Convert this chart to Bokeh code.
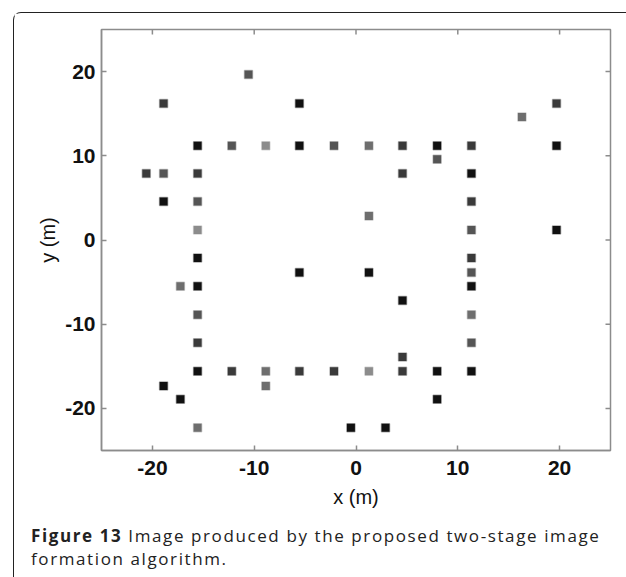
import math
from bokeh.plotting import figure
from bokeh.models import Range1d, FixedTicker, ColumnDataSource, Div
from bokeh.layouts import column
from bokeh.embed import file_html
from bokeh.resources import INLINE

# ---- data ----
xs = [-10.56, -18.9, -5.56, -15.56, -12.2, -8.86, -5.56, -2.16, -20.6, -18.9, -15.56,
      -18.9, -15.56, -15.56, -15.56, -5.56,
      1.27, 4.57, 7.97, 11.34, 19.7, 19.7, 16.3, 7.97, 4.57, 11.34, 11.34, 1.27, 11.34,
      19.7, 11.34, 1.27, 11.34,
      -17.25, -15.56, -15.56, -15.56, -15.56, -12.2, -8.86, -5.56, -2.16, -18.9, -8.86,
      -17.25, -15.56,
      11.34, 4.57, 11.34, 11.34, 4.57, 1.27, 4.57, 7.97, 11.34, 7.97, -0.5, 2.9]
ys = [19.65, 16.2, 16.2, 11.2, 11.2, 11.2, 11.2, 11.2, 7.9, 7.9, 7.9,
      4.56, 4.56, 1.2, -2.15, -3.85,
      11.2, 11.2, 11.2, 11.2, 11.2, 16.2, 14.6, 9.6, 7.9, 7.9, 4.56, 2.86, 1.2,
      1.2, -2.15, -3.85, -3.85,
      -5.5, -5.5, -8.87, -12.2, -15.6, -15.6, -15.6, -15.6, -15.6, -17.35, -17.35,
      -18.9, -22.3,
      -5.5, -7.2, -8.87, -12.2, -13.9, -15.6, -15.6, -15.6, -15.6, -18.9, -22.3, -22.3]
shades = ["#555555", "#3a3a3a", "#111111", "#111111", "#555555", "#8c8c8c", "#111111", "#555555",
          "#3a3a3a", "#555555", "#3a3a3a",
          "#111111", "#555555", "#8c8c8c", "#111111", "#111111",
          "#6e6e6e", "#3a3a3a", "#111111", "#3a3a3a", "#111111", "#3a3a3a", "#6e6e6e", "#555555",
          "#3a3a3a", "#111111", "#3a3a3a", "#6e6e6e", "#555555",
          "#111111", "#3a3a3a", "#111111", "#555555",
          "#6e6e6e", "#111111", "#555555", "#3a3a3a", "#111111", "#3a3a3a", "#6e6e6e", "#3a3a3a",
          "#3a3a3a", "#111111", "#6e6e6e",
          "#111111", "#6e6e6e",
          "#111111", "#111111", "#6e6e6e", "#555555", "#3a3a3a", "#8c8c8c", "#3a3a3a", "#111111",
          "#111111", "#111111", "#111111", "#111111"]
ticks = [-20, -10, 0, 10, 20]
axis_min, axis_max = -25, 25
x_label = "x (m)"
y_label = "y (m)"
caption_bold = "Figure 13"
caption_line1 = "Image produced by the proposed two-stage image"
caption_line2 = "formation algorithm."

AX = "#8c8c8c"
src = ColumnDataSource(dict(x=xs, y=ys, c=shades))

p = figure(width=612, height=497, output_backend="svg", toolbar_location=None,
           x_range=Range1d(axis_min, axis_max), y_range=Range1d(axis_min, axis_max),
           min_border_left=87, min_border_right=16, min_border_top=16, min_border_bottom=60,
           background_fill_color="white", border_fill_color="white")
p.grid.visible = False
p.outline_line_color = AX
p.outline_line_width = 1.5

p.scatter("x", "y", source=src, marker="square", size=8, fill_color="c",
          line_color="c", line_alpha=0.35, line_width=1.5)

# inward ticks on the top and right edges of the box (clipped to the frame)
p.scatter(x=ticks, y=[axis_max] * len(ticks), marker="dash", angle=math.pi / 2, size=10,
          line_color=AX, line_width=1.5)
p.scatter(x=[axis_max] * len(ticks), y=ticks, marker="dash", size=10,
          line_color=AX, line_width=1.5)

for ax in (p.xaxis[0], p.yaxis[0]):
    ax.ticker = FixedTicker(ticks=ticks)
    ax.major_label_overrides = {t: str(t) for t in ticks}
    ax.axis_line_color = AX
    ax.axis_line_width = 1.5
    ax.major_tick_in = 5
    ax.major_tick_out = 0
    ax.major_tick_line_color = AX
    ax.major_tick_line_width = 1.5
    ax.minor_tick_line_color = None
    ax.major_label_text_font = "Liberation Sans"
    ax.major_label_text_font_style = "bold"
    ax.major_label_text_font_size = "21px"
    ax.major_label_text_color = "#111111"
    ax.axis_label_text_font = "Liberation Sans"
    ax.axis_label_text_font_style = "normal"
    ax.axis_label_text_font_size = "20px"
    ax.axis_label_text_color = "#111111"
p.xaxis[0].axis_label = x_label
p.yaxis[0].axis_label = y_label
p.xaxis[0].major_label_standoff = 10
p.yaxis[0].major_label_standoff = 6
p.xaxis[0].axis_label_standoff = 8
p.yaxis[0].axis_label_standoff = 3

caption = Div(
    text=('<div style="font-family:\'Open Sans\';font-size:17px;line-height:23px;'
          'letter-spacing:1.6px;color:#222222;padding:9px 0 0 12px;white-space:nowrap;">'
          f'<b>{caption_bold}</b> {caption_line1}<br>{caption_line2}</div>'),
    width=612, height=67)

layout = column(p, caption, spacing=0,
                styles={"margin-left": "13px", "margin-top": "12px",
                        "border-left": "1px solid #222222", "border-top": "1px solid #222222",
                        "border-top-left-radius": "8px"})

open("out.html", "w").write(file_html(layout, INLINE))
